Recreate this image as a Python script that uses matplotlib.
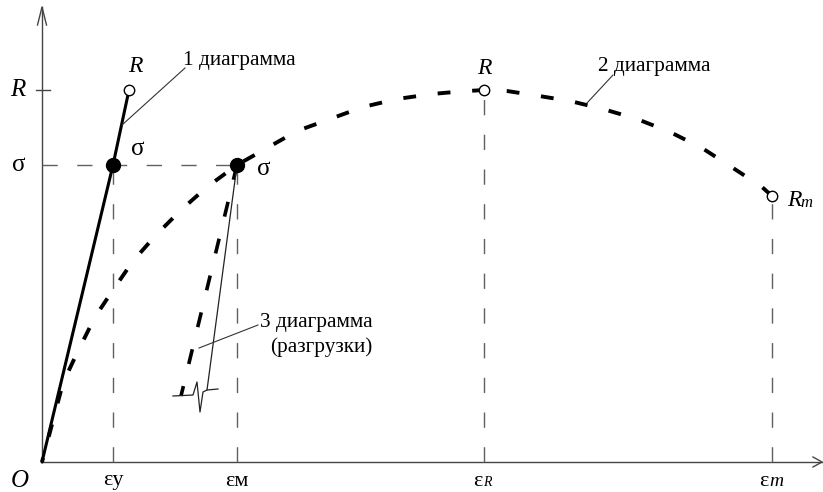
import matplotlib
matplotlib.use("Agg")
import matplotlib.pyplot as plt

plt.rcParams['font.family'] = ['Liberation Serif', 'DejaVu Serif']

# ---- characteristic values (arbitrary units) ----
eps_y, eps_M, eps_R, eps_m = 71, 195, 442, 730
sigma_val, R_val, Rm_val = 297, 372, 266
eps_R1 = 87  # strain at R on diagram 1

# diagram 1 (elastic, solid)
d1_eps = [0, eps_y, eps_R1]
d1_sig = [0, sigma_val, R_val]

# diagram 2 (dashed curve)
d2_eps = [0, 21, 35, 53, 71, 91, 114, 139, 165, 195, 225, 255, 288, 321,
          355, 390, 418, 442, 465, 491, 528, 561, 595, 628, 660, 688, 720, 730]
d2_sig = [0, 79, 109, 145, 172, 201, 227, 252, 275, 297, 314, 331, 343, 355,
          363, 368, 370.5, 372, 371, 367, 361, 353, 343, 330, 314, 296, 275, 266]

# diagram 3 (unloading)
d3_thick_eps = [eps_M, 139]
d3_thick_sig = [sigma_val, 66]
d3_thin_eps = [eps_M, 165]
d3_thin_sig = [sigma_val, 72]
brk_eps = [131, 151, 155, 158, 161, 165, 176]
brk_sig = [66, 67, 80, 50, 70, 72, 73]

# leader lines: (text end) -> (curve end)
lead1 = ([143, 80], [394, 337])
lead2 = ([571, 545], [387, 359])
lead3 = ([216, 157], [137, 114])

fig = plt.figure(figsize=(8.23, 4.92), dpi=100)
ax = fig.add_axes([0, 0, 1, 1])
ax.set_xlim(-42, 781)
ax.set_ylim(-30, 462)
ax.axis('off')

axc = '#444444'
gc = '#606060'
# axes
ax.plot([0, 0], [0, 455], color=axc, lw=1.0)
ax.plot([-4.5, 0, 4.5], [437, 455, 437], color=axc, lw=1.0)
ax.plot([0, 780], [0, 0], color=axc, lw=1.0)
ax.plot([771, 780, 771], [5, 0, -5], color=axc, lw=1.0)
# R tick
ax.plot([-6, 8], [R_val, R_val], color=axc, lw=1.0)

gdash = (0, (11, 14))
# horizontal sigma guide
ax.plot([0, eps_M], [sigma_val, sigma_val], color=gc, lw=1.0, linestyle=gdash)
# vertical guides
for e, s in [(eps_y, sigma_val), (eps_M, sigma_val), (eps_R, R_val), (eps_m, Rm_val)]:
    ax.plot([e, e], [0, s], color=gc, lw=1.0, linestyle=gdash)

# diagram 1
ax.plot(d1_eps, d1_sig, color='black', lw=2.2, solid_capstyle='round')
# diagram 2 (drawn from the Rm end so a dash meets the Rm point)
ax.plot(d2_eps[::-1], d2_sig[::-1], color='black', lw=2.8, linestyle=(0, (3.3, 5.6)))
# diagram 3
ax.plot(d3_thick_eps, d3_thick_sig, color='black', lw=2.6, linestyle=(0, (4.2, 6.3)))
ax.plot(d3_thin_eps, d3_thin_sig, color='#222222', lw=0.9)
ax.plot(brk_eps, brk_sig, color='#222222', lw=0.9)

# leader lines
for lx, ly in (lead1, lead2, lead3):
    ax.plot(lx, ly, color='#333333', lw=0.8)

# markers
ax.plot([eps_y, eps_M], [sigma_val, sigma_val], 'o', color='black', ms=10, zorder=5)
ax.plot([eps_R1, eps_R, eps_m], [R_val, R_val, Rm_val], 'o', mfc='white',
        mec='black', ms=7.5, mew=1.0, zorder=5)

# texts
fs_lab = 15.3
ax.text(-24, R_val, 'R', fontsize=18, style='italic', ha='center', va='center')
ax.text(-23, sigma_val, 'σ', fontsize=18, ha='center', va='center')
ax.text(93, 395, 'R', fontsize=17, style='italic', ha='center', va='center')
ax.text(96, 313, 'σ', fontsize=18, ha='center', va='center')
ax.text(222, 293, 'σ', fontsize=18, ha='center', va='center')
ax.text(442, 394, 'R', fontsize=17, style='italic', ha='center', va='center')
ax.text(745, 262, 'R', fontsize=17, style='italic', ha='left', va='center')
ax.text(758, 259, 'm', fontsize=12, style='italic', ha='left', va='center')

ax.text(141, 401, '1 диаграмма', fontsize=fs_lab, ha='left', va='center')
ax.text(556, 395, '2 диаграмма', fontsize=fs_lab, ha='left', va='center')
ax.text(218, 140, '3 диаграмма', fontsize=fs_lab, ha='left', va='center')
ax.text(228, 115, '(разгрузки)', fontsize=fs_lab, ha='left', va='center')

yb = -19
ax.text(-22, yb, 'O', fontsize=18, style='italic', ha='center', va='center')
ax.text(eps_y, yb, 'εу', fontsize=16, ha='center', va='center')
ax.text(eps_M, yb, 'εм', fontsize=16, ha='center', va='center')
ax.text(eps_R - 1, yb, 'ε', fontsize=16, ha='right', va='center')
ax.text(eps_R - 1, yb - 2, 'R', fontsize=10, style='italic', ha='left', va='center')
ax.text(eps_m - 3, yb, 'ε', fontsize=16, ha='right', va='center')
ax.text(eps_m - 3, yb - 1, 'm', fontsize=14, style='italic', ha='left', va='center')

fig.savefig('out.png', dpi=100)
